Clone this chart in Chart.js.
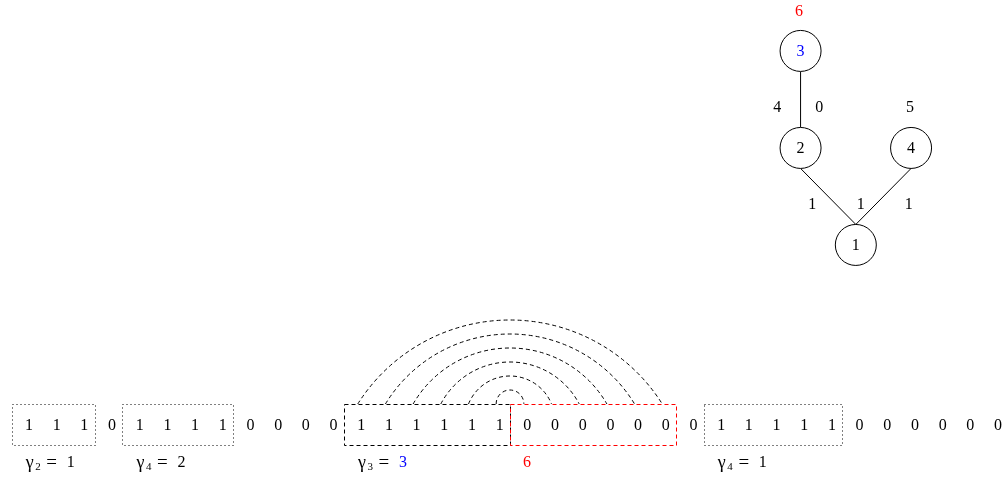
<!DOCTYPE html>
<html>
<head>
<meta charset="utf-8">
<script src="https://cdn.jsdelivr.net/npm/chart.js@4"></script>
<style>
  html, body { margin: 0; padding: 0; background: #fff; }
  #wrap { width: 1005px; height: 480px; }
</style>
</head>
<body>
<div id="wrap"><canvas id="myChart" width="1005" height="480"></canvas></div>
<script>
// bit string along the bottom
const bits = [1,1,1,0,1,1,1,1,0,0,0,0,1,1,1,1,1,1,0,0,0,0,0,0,0,1,1,1,1,1,0,0,0,0,0,0];

// boxed groups of the string (first and last index)
const groupStart = [0, 4, 12, 18, 25];
const groupEnd = [2, 7, 17, 23, 29];
const groupStyle = ["dotted", "dotted", "dashed", "dashedRed", "dotted"];
const groupGamma = ["2", "4", "3", null, "4"];
const groupValue = ["1", "2", "3", "6", "1"];
const groupValueColor = ["#000", "#000", "#0000ff", "#ff0000", "#000"];

// arcs pairing the 1s of group 3 with the 0s after it
const arcFrom = [17, 16, 15, 14, 13, 12];
const arcTo = [18, 19, 20, 21, 22, 23];

// tree
const nodeIds = ["1", "2", "3", "4"];
const nodeParent = [null, 0, 1, 0];
const nodeDepth = [0, 1, 2, 1];
const nodeCol = [1, 0, 0, 2];
const nodeTextColor = ["#000", "#000", "#0000ff", "#000"];

// numbers written round the tree
const treeNotes = ["6", "4", "0", "5", "1", "1", "1"];
const treeNoteColor = ["#ff0000", "#000", "#000", "#000", "#000", "#000", "#000"];

// ---- layout (not data) ----
const noteCol = [-0.03, -0.42, 0.34, 1.98, 0.21, 1.09, 1.96];
const noteDepth = [2.40, 1.41, 1.41, 1.41, 0.41, 0.41, 0.41];
const ROW_Y = 426, BOX_TOP = 404, BOX_BOTTOM = 445, LABEL_Y = 462.5, ARC_STEP = 14;
const NODE_R = 20.5;
const SERIF = "'Liberation Serif', 'DejaVu Serif', serif";
const FONT = "16px " + SERIF;
const GAMMA_FONT = "18px " + SERIF;
const EQ_FONT = "19px " + SERIF;
const SUB_FONT = "11px " + SERIF;

const dashFor = {
  dotted: { dash: [1, 3], color: "#000" },
  dashed: { dash: [4, 3], color: "#000" },
  dashedRed: { dash: [4, 3], color: "#ff0000" },
};

const diagram = {
  id: "diagram",
  beforeDatasetsDraw(chart) {
    const { ctx } = chart;
    const tx = chart.scales.tx, ty = chart.scales.ty;
    // tree edges: bottom of child circle to top of parent circle
    ctx.save();
    ctx.strokeStyle = "#000";
    ctx.lineWidth = 1;
    nodeParent.forEach((p, i) => {
      if (p === null) return;
      ctx.beginPath();
      ctx.moveTo(tx.getPixelForValue(nodeCol[i]), ty.getPixelForValue(nodeDepth[i]) + NODE_R);
      ctx.lineTo(tx.getPixelForValue(nodeCol[p]), ty.getPixelForValue(nodeDepth[p]) - NODE_R);
      ctx.stroke();
    });
    ctx.restore();
  },
  afterDatasetsDraw(chart) {
    const { ctx } = chart;
    const x = chart.scales.x, y = chart.scales.y;
    const tx = chart.scales.tx, ty = chart.scales.ty;
    ctx.save();
    ctx.textAlign = "center";
    ctx.textBaseline = "middle";
    ctx.font = FONT;

    // node labels
    nodeIds.forEach((id, i) => {
      ctx.fillStyle = nodeTextColor[i];
      ctx.fillText(id, tx.getPixelForValue(nodeCol[i]), ty.getPixelForValue(nodeDepth[i]) + 1);
    });
    treeNotes.forEach((t, i) => {
      ctx.fillStyle = treeNoteColor[i];
      ctx.fillText(t, tx.getPixelForValue(noteCol[i]), ty.getPixelForValue(noteDepth[i]));
    });

    // bits
    ctx.fillStyle = "#000";
    bits.forEach((b, i) => {
      ctx.fillText(String(b), x.getPixelForValue(i) + 3.5, y.getPixelForValue(ROW_Y));
    });

    // arcs
    ctx.strokeStyle = "#000";
    ctx.lineWidth = 1;
    ctx.setLineDash([4, 3]);
    const base = y.getPixelForValue(BOX_TOP);
    arcFrom.forEach((a, k) => {
      const xl = x.getPixelForValue(a), xr = x.getPixelForValue(arcTo[k]);
      const c = (xr - xl) / 2, h = ARC_STEP * (k + 1);
      const R = (c * c + h * h) / (2 * h);
      const cx = (xl + xr) / 2, cy = base - h + R;
      ctx.beginPath();
      ctx.arc(cx, cy, R, Math.atan2(base - cy, -c), Math.atan2(base - cy, c));
      ctx.stroke();
    });

    // boxes and their labels
    groupStart.forEach((s, g) => {
      const st = dashFor[groupStyle[g]];
      const left = x.getPixelForValue(s - 0.5), right = x.getPixelForValue(groupEnd[g] + 0.5);
      const top = y.getPixelForValue(BOX_TOP), bottom = y.getPixelForValue(BOX_BOTTOM);
      ctx.strokeStyle = st.color;
      ctx.setLineDash(st.dash);
      ctx.strokeRect(Math.round(left) + 0.5, Math.round(top) + 0.5, Math.round(right - left), Math.round(bottom - top));

      const ly = y.getPixelForValue(LABEL_Y);
      if (groupGamma[g]) {
        ctx.fillStyle = "#000";
        ctx.textAlign = "left";
        ctx.font = GAMMA_FONT;
        ctx.fillText("\u03b3", left + 14, ly + 1);
        ctx.font = SUB_FONT;
        ctx.fillText(groupGamma[g], left + 23.5, ly + 5);
        ctx.textAlign = "center";
        ctx.font = EQ_FONT;
        ctx.fillText("=", left + 40, ly + 1);
        ctx.font = FONT;
        ctx.fillStyle = groupValueColor[g];
        ctx.fillText(groupValue[g], left + 59, ly);
      } else {
        ctx.font = FONT;
        ctx.fillStyle = groupValueColor[g];
        ctx.textAlign = "left";
        ctx.fillText(groupValue[g], left + 13, ly);
        ctx.textAlign = "center";
      }
    });
    ctx.restore();
  },
};

const canvas = document.getElementById("myChart");

new Chart(canvas, {
  type: "scatter",
  data: {
    datasets: [
      {
        label: "nodes",
        xAxisID: "tx",
        yAxisID: "ty",
        data: nodeIds.map((id, i) => ({ x: nodeCol[i], y: nodeDepth[i] })),
        pointRadius: NODE_R,
        pointHoverRadius: NODE_R,
        pointBackgroundColor: "#fff",
        pointBorderColor: "#000",
        pointBorderWidth: 1,
        clip: false,
      },
    ],
  },
  options: {
    responsive: false,
    animation: false,
    events: [],
    layout: { padding: 0, autoPadding: false },
    plugins: { legend: { display: false }, tooltip: { enabled: false } },
    scales: {
      // bit index -> horizontal position
      x: { type: "linear", display: false, min: -0.921, max: 35.379 },
      // strip rows in canvas units
      y: { type: "linear", display: false, reverse: true, min: 0, max: 480 },
      // tree columns / depths
      tx: { type: "linear", axis: "x", position: "top", display: false, min: -14.49, max: 3.70 },
      ty: { type: "linear", axis: "y", position: "right", display: false, min: -2.423, max: 2.525 },
    },
  },
  plugins: [diagram],
});
</script>
</body>
</html>
